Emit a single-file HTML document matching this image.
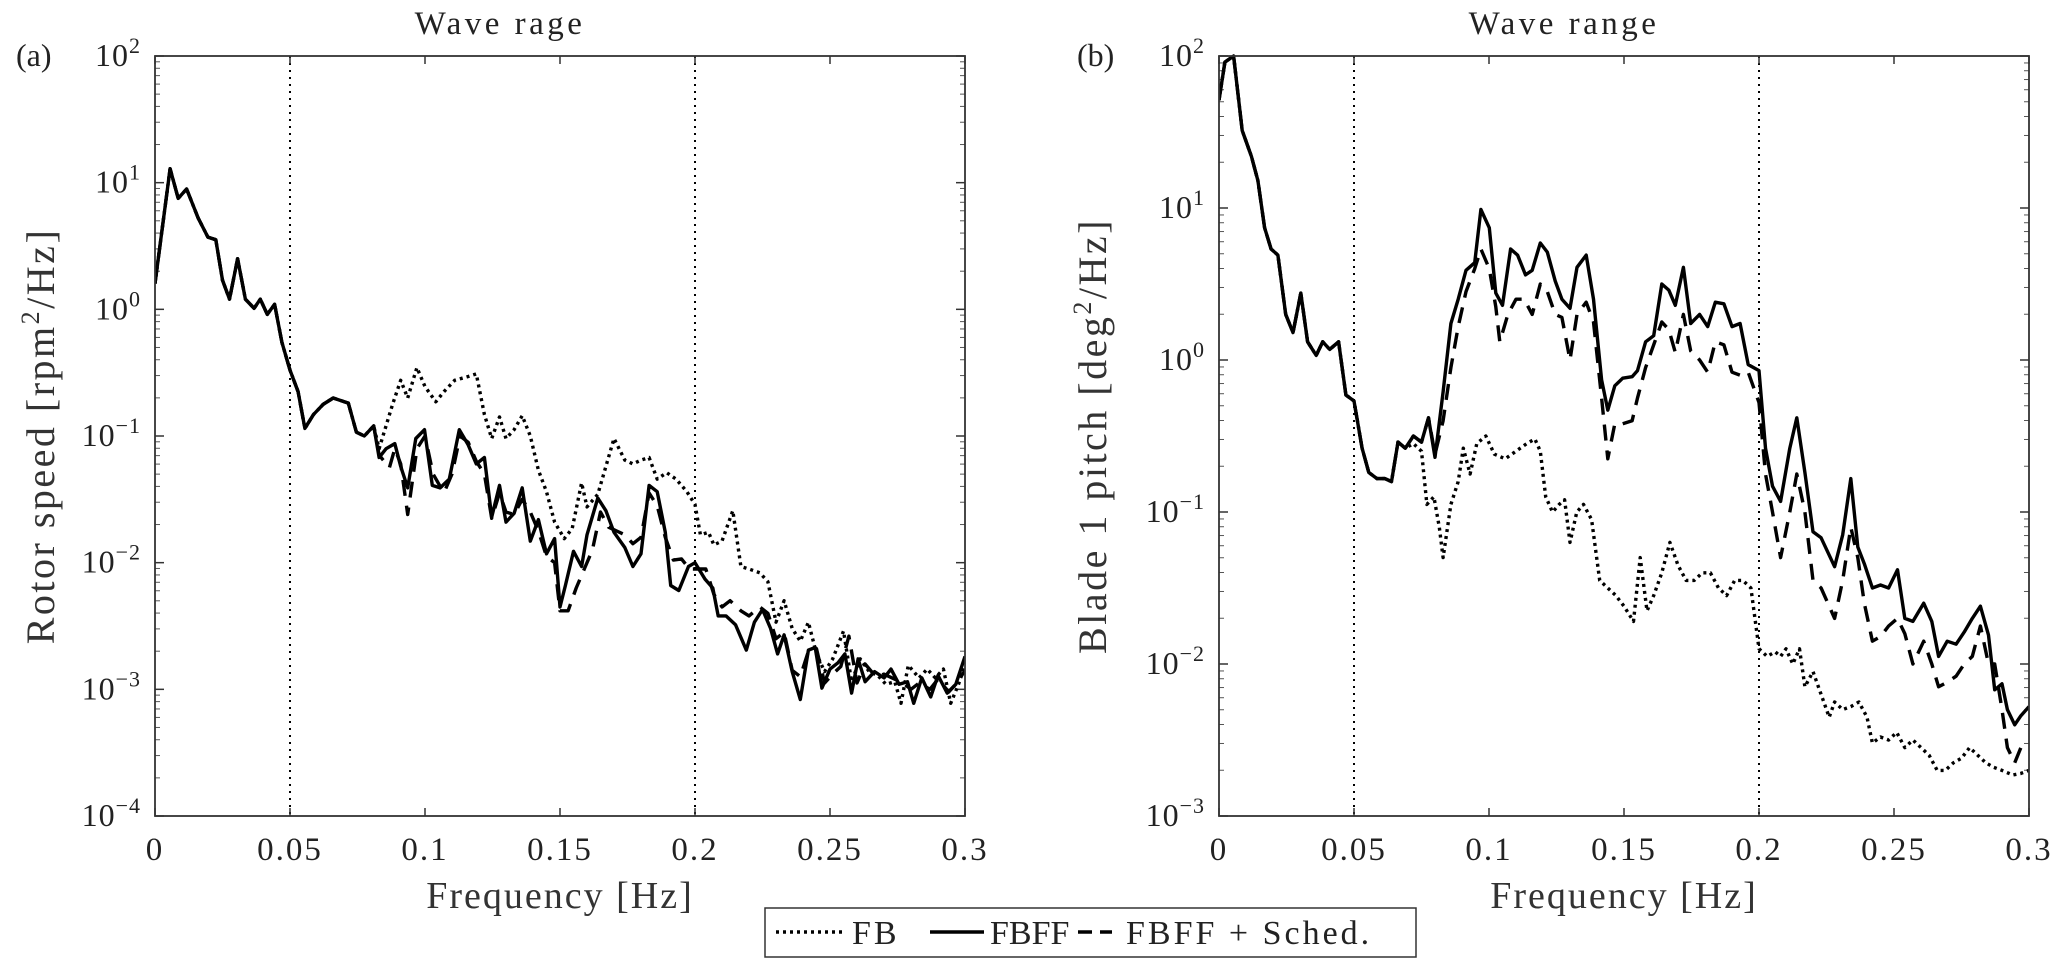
<!DOCTYPE html>
<html><head><meta charset="utf-8"><style>
html,body{margin:0;padding:0;background:#fff;}
svg{display:block;font-family:"Liberation Serif",serif;}
</style></head><body>
<svg id="fig" width="2067" height="976" viewBox="0 0 2067 976" xmlns="http://www.w3.org/2000/svg"></svg>
<script>
// ---------- Panel (a) data: rotor speed PSD, log10 values ----------
const aFreqFBFF = [0,0.0056,0.0086,0.0117,0.016,0.0196,0.0225,0.025,0.0276,0.0306,0.0335,0.0367,0.039,0.0416,0.0443,0.047,0.05,0.053,0.0555,0.0587,0.0623,0.066,0.0716,0.0746,0.0775,0.081,0.083,0.0856,0.0888,0.091,0.0936,0.0966,0.0998,0.1027,0.1056,0.109,0.1127,0.116,0.119,0.122,0.1247,0.1276,0.13,0.133,0.136,0.139,0.142,0.145,0.148,0.15,0.152,0.155,0.158,0.16,0.164,0.167,0.17,0.174,0.177,0.18,0.183,0.186,0.189,0.191,0.194,0.1976,0.2,0.2037,0.2066,0.2086,0.2115,0.215,0.219,0.222,0.225,0.228,0.2306,0.233,0.236,0.239,0.242,0.2445,0.247,0.25,0.253,0.2555,0.258,0.2604,0.263,0.2665,0.27,0.2726,0.2756,0.2787,0.281,0.284,0.2873,0.29,0.2934,0.2966,0.3];
const aLogFBFF = [0.204,1.11,0.876,0.95,0.72,0.57,0.55,0.23,0.08,0.40,0.08,0.008,0.08,-0.04,0.04,-0.26,-0.48,-0.65,-0.94,-0.83,-0.75,-0.70,-0.74,-0.97,-1.0,-0.92,-1.17,-1.10,-1.06,-1.24,-1.41,-1.02,-0.95,-1.39,-1.41,-1.34,-0.95,-1.07,-1.22,-1.17,-1.64,-1.39,-1.68,-1.61,-1.41,-1.83,-1.66,-1.93,-1.81,-2.35,-2.18,-1.91,-2.03,-1.78,-1.49,-1.59,-1.76,-1.88,-2.03,-1.93,-1.39,-1.44,-1.76,-2.18,-2.22,-2.03,-2.00,-2.13,-2.20,-2.42,-2.42,-2.49,-2.69,-2.47,-2.37,-2.52,-2.72,-2.57,-2.86,-3.08,-2.69,-2.67,-2.99,-2.84,-2.79,-2.72,-3.03,-2.76,-2.94,-2.86,-2.91,-2.84,-2.96,-2.94,-3.11,-2.91,-3.06,-2.89,-3.03,-2.96,-2.74];
const aFreqFB = [0.083,0.088,0.091,0.0936,0.097,0.1,0.104,0.107,0.111,0.116,0.119,0.122,0.1247,0.1276,0.13,0.133,0.136,0.139,0.142,0.145,0.148,0.1516,0.1545,0.158,0.16,0.164,0.167,0.17,0.174,0.177,0.18,0.183,0.186,0.1895,0.193,0.197,0.2,0.202,0.205,0.207,0.21,0.214,0.217,0.22,0.224,0.227,0.23,0.233,0.236,0.239,0.242,0.245,0.248,0.251,0.255,0.258,0.2612,0.2645,0.2677,0.2707,0.274,0.2763,0.279,0.283,0.286,0.289,0.292,0.2947,0.2976,0.3];
const aLogFB = [-1.10,-0.75,-0.56,-0.70,-0.46,-0.61,-0.73,-0.65,-0.56,-0.53,-0.51,-0.83,-1.02,-0.85,-1.02,-0.95,-0.84,-1.0,-1.27,-1.44,-1.68,-1.81,-1.73,-1.37,-1.56,-1.46,-1.24,-1.02,-1.19,-1.22,-1.19,-1.17,-1.34,-1.29,-1.34,-1.44,-1.54,-1.78,-1.76,-1.86,-1.83,-1.59,-2.03,-2.05,-2.08,-2.15,-2.47,-2.30,-2.52,-2.62,-2.47,-2.72,-2.86,-2.76,-2.54,-2.94,-2.76,-2.86,-2.89,-2.96,-2.94,-3.11,-2.81,-2.91,-2.84,-2.91,-2.84,-3.11,-2.96,-2.81];
const aFreqSched = [0.083,0.0868,0.0888,0.091,0.0936,0.097,0.1,0.103,0.107,0.11,0.113,0.116,0.119,0.122,0.1247,0.1276,0.13,0.133,0.136,0.139,0.142,0.145,0.148,0.15,0.153,0.156,0.159,0.162,0.165,0.168,0.171,0.174,0.177,0.18,0.183,0.186,0.189,0.192,0.195,0.198,0.201,0.204,0.207,0.21,0.213,0.217,0.22,0.224,0.227,0.23,0.233,0.236,0.239,0.242,0.245,0.248,0.251,0.254,0.257,0.26,0.263,0.267,0.27,0.274,0.277,0.28,0.283,0.287,0.29,0.294,0.297,0.3];
const aLogSched = [-1.15,-1.25,-1.10,-1.22,-1.62,-1.10,-1.00,-1.30,-1.45,-1.30,-1.00,-1.05,-1.20,-1.30,-1.65,-1.45,-1.60,-1.62,-1.50,-1.60,-1.75,-1.95,-2.0,-2.38,-2.38,-2.2,-2.05,-1.9,-1.60,-1.72,-1.75,-1.78,-1.85,-1.80,-1.45,-1.55,-1.80,-1.98,-1.97,-2.05,-2.05,-2.05,-2.25,-2.35,-2.30,-2.38,-2.42,-2.35,-2.40,-2.60,-2.55,-2.85,-2.90,-2.70,-2.68,-2.95,-2.88,-2.82,-2.58,-2.95,-2.80,-2.90,-2.88,-2.92,-2.95,-3.0,-2.95,-3.0,-2.92,-3.02,-2.95,-2.85];

// ---------- Panel (b) data: blade pitch PSD, log10 values ----------
const bFreqFBFF = [0,0.0022,0.0054,0.0086,0.012,0.0144,0.0169,0.0193,0.0218,0.0247,0.0274,0.0303,0.0328,0.036,0.0384,0.041,0.0443,0.047,0.05,0.053,0.0555,0.0585,0.0614,0.0639,0.0663,0.069,0.072,0.075,0.0776,0.08,0.083,0.0859,0.0886,0.0915,0.0947,0.097,0.1001,0.1025,0.105,0.108,0.1106,0.1135,0.116,0.119,0.1216,0.1245,0.127,0.13,0.1326,0.136,0.1387,0.1417,0.144,0.1466,0.1495,0.153,0.155,0.158,0.161,0.164,0.1666,0.169,0.172,0.1747,0.178,0.181,0.1838,0.187,0.19,0.193,0.196,0.2,0.2024,0.205,0.208,0.2114,0.214,0.217,0.22,0.223,0.228,0.231,0.234,0.2366,0.239,0.242,0.245,0.248,0.2513,0.254,0.257,0.261,0.264,0.2665,0.2697,0.273,0.276,0.279,0.282,0.285,0.2873,0.29,0.292,0.2947,0.297,0.3];
const bLogFBFF = [1.71,1.96,2.0,1.51,1.34,1.18,0.87,0.73,0.69,0.30,0.18,0.44,0.12,0.03,0.12,0.07,0.12,-0.23,-0.27,-0.58,-0.74,-0.78,-0.78,-0.80,-0.54,-0.58,-0.50,-0.54,-0.38,-0.64,-0.21,0.24,0.40,0.59,0.64,0.99,0.87,0.44,0.36,0.73,0.69,0.56,0.59,0.77,0.71,0.52,0.40,0.34,0.61,0.69,0.40,-0.13,-0.33,-0.17,-0.12,-0.11,-0.07,0.12,0.16,0.50,0.46,0.36,0.61,0.24,0.30,0.22,0.38,0.37,0.22,0.24,-0.03,-0.07,-0.58,-0.83,-0.93,-0.58,-0.38,-0.74,-1.13,-1.17,-1.36,-1.15,-0.78,-1.23,-1.34,-1.50,-1.48,-1.50,-1.38,-1.70,-1.72,-1.60,-1.72,-1.95,-1.85,-1.87,-1.79,-1.70,-1.62,-1.81,-2.17,-2.13,-2.30,-2.40,-2.34,-2.28];
const bFreqSched = [0.08,0.083,0.0859,0.0886,0.0915,0.0947,0.097,0.1001,0.1025,0.104,0.107,0.11,0.113,0.116,0.119,0.1216,0.1245,0.127,0.13,0.1326,0.136,0.1387,0.1417,0.144,0.1466,0.1495,0.153,0.155,0.158,0.161,0.164,0.1666,0.169,0.172,0.1747,0.178,0.181,0.1838,0.187,0.19,0.193,0.196,0.2,0.2024,0.205,0.208,0.2114,0.214,0.217,0.22,0.223,0.228,0.231,0.234,0.2366,0.239,0.242,0.245,0.248,0.2513,0.254,0.257,0.261,0.264,0.2665,0.2697,0.273,0.276,0.279,0.282,0.285,0.2873,0.29,0.292,0.2947,0.297,0.3];
const bLogSched = [-0.62,-0.40,-0.05,0.22,0.45,0.60,0.73,0.60,0.35,0.12,0.30,0.40,0.40,0.30,0.50,0.45,0.30,0.28,0.0,0.30,0.38,0.25,-0.25,-0.65,-0.42,-0.42,-0.40,-0.25,-0.05,0.10,0.25,0.20,0.05,0.30,0.06,0.0,-0.08,0.12,0.10,-0.08,-0.10,-0.08,-0.28,-0.75,-1.0,-1.30,-1.0,-0.75,-1.0,-1.45,-1.50,-1.70,-1.45,-1.10,-1.30,-1.60,-1.85,-1.82,-1.75,-1.70,-1.80,-2.0,-1.85,-2.0,-2.15,-2.12,-2.08,-2.0,-1.95,-1.75,-2.0,-2.0,-2.30,-2.55,-2.65,-2.55,-2.52];
const bFreqFB = [0.072,0.075,0.077,0.0796,0.0816,0.083,0.0859,0.0886,0.0905,0.093,0.0955,0.0988,0.102,0.106,0.11,0.114,0.117,0.119,0.121,0.1235,0.126,0.128,0.13,0.1325,0.135,0.138,0.141,0.144,0.147,0.15,0.1535,0.156,0.1585,0.161,0.164,0.167,0.17,0.173,0.176,0.179,0.182,0.185,0.188,0.191,0.194,0.197,0.2,0.203,0.206,0.208,0.21,0.2125,0.215,0.217,0.22,0.223,0.226,0.228,0.231,0.234,0.237,0.24,0.242,0.245,0.248,0.251,0.254,0.257,0.26,0.263,0.266,0.269,0.272,0.275,0.278,0.281,0.284,0.287,0.29,0.294,0.297,0.3];
const bLogFB = [-0.55,-0.60,-0.95,-0.90,-1.10,-1.30,-0.95,-0.80,-0.58,-0.75,-0.55,-0.50,-0.62,-0.65,-0.60,-0.55,-0.52,-0.60,-0.90,-1.00,-0.95,-0.92,-1.20,-1.0,-0.95,-1.05,-1.45,-1.50,-1.55,-1.62,-1.72,-1.30,-1.65,-1.55,-1.40,-1.20,-1.35,-1.45,-1.45,-1.40,-1.40,-1.50,-1.55,-1.45,-1.45,-1.50,-1.90,-1.95,-1.92,-1.95,-1.90,-2.0,-1.90,-2.15,-2.05,-2.20,-2.35,-2.25,-2.30,-2.28,-2.25,-2.35,-2.52,-2.48,-2.50,-2.45,-2.55,-2.50,-2.55,-2.60,-2.70,-2.70,-2.65,-2.62,-2.55,-2.60,-2.65,-2.68,-2.70,-2.73,-2.72,-2.70];

const xTicks = [0,0.05,0.1,0.15,0.2,0.25,0.3];
const xTickLabels = ["0","0.05","0.1","0.15","0.2","0.25","0.3"];
const waveBounds = [0.05,0.2];

const NS = "http://www.w3.org/2000/svg";
const svg = document.getElementById('fig');
function mk(tag, attrs, parent){
  const e = document.createElementNS(NS, tag);
  for (const k in attrs) e.setAttribute(k, attrs[k]);
  (parent||svg).appendChild(e);
  return e;
}

function prefixed(fA, lA, fB, lB){
  const f = [], l = [];
  for (let i=0;i<fA.length;i++){ if (fA[i] < fB[0]) { f.push(fA[i]); l.push(lA[i]); } }
  return [f.concat(fB), l.concat(lB)];
}

function panel(opt){
  const g = mk('g', {});
  
  
  const X0=opt.x0, X1=opt.x0+810, Y0=56, Y1=816;
  const xs = f => X0 + (f/0.3)*(X1-X0);
  const ys = lg => Y0 + (opt.maxExp - lg)/(opt.maxExp-opt.minExp)*(Y1-Y0);
  waveBounds.forEach(b=>{
    const l = mk('line',{x1:xs(b),x2:xs(b),y1:Y0,y2:Y1,stroke:'#000','stroke-width':2,'stroke-dasharray':'2 5'},g);
    
    
  });
  xTicks.forEach((t,i)=>{
    mk('line',{x1:xs(t),x2:xs(t),y1:Y1,y2:Y1-8,stroke:'#333','stroke-width':1.5},g);
    mk('line',{x1:xs(t),x2:xs(t),y1:Y0,y2:Y0+8,stroke:'#333','stroke-width':1.5},g);
    const tx = mk('text',{x:xs(t),y:860,'font-size':33,'letter-spacing':2,'text-anchor':'middle',fill:'#222'},g);
    tx.textContent = xTickLabels[i];
    
    
  });
  for (let e=opt.minExp;e<=opt.maxExp;e++){
    const y = ys(e);
    mk('line',{x1:X0,x2:X0+9,y1:y,y2:y,stroke:'#333','stroke-width':1.5},g);
    mk('line',{x1:X1,x2:X1-9,y1:y,y2:y,stroke:'#333','stroke-width':1.5},g);
    if (e<opt.maxExp){
      for (let m=2;m<10;m++){
        const ym = ys(e+Math.log10(m));
        mk('line',{x1:X0,x2:X0+5,y1:ym,y2:ym,stroke:'#555','stroke-width':1},g);
        mk('line',{x1:X1,x2:X1-5,y1:ym,y2:ym,stroke:'#555','stroke-width':1},g);
      }
    }
    const tx = mk('text',{x:X0-14,y:y+10,'font-size':32,'letter-spacing':1,'text-anchor':'end',fill:'#222'},g);
    
    
    tx.textContent = '10';
    const sp = mk('tspan',{dy:-13,'font-size':22},tx);
    sp.textContent = (e<0?'\u2212'+(-e):String(e));
  }
  const clip = mk('clipPath',{id:'clip'+opt.name},g);
  mk('rect',{x:X0,y:Y0-6,width:X1-X0,height:Y1-Y0+6},clip);
  opt.series.forEach(s=>{
    const d = s.f.map((f,i)=>(i?'L':'M')+xs(f).toFixed(1)+','+ys(s.l[i]).toFixed(1)).join(' ');
    const p = mk('path',{d:d,fill:'none',stroke:'#000','stroke-width':3.4,'stroke-linejoin':'round','clip-path':'url(#clip'+opt.name+')'},g);
    if (s.dash) p.setAttribute('stroke-dasharray', s.dash);
    
    
  });
  const box = mk('rect',{x:X0,y:Y0,width:X1-X0,height:Y1-Y0,fill:'none',stroke:'#333','stroke-width':1.8},g);
  
  
  const t = mk('text',{x:(X0+X1)/2 - 2*(X1-X0)/27,y:34,'font-size':33,'letter-spacing':3.5,'text-anchor':'middle',fill:'#222'},g);
  t.textContent = opt.title;
  
  
  const xl = mk('text',{x:(X0+X1)/2,y:908,'font-size':38,'letter-spacing':2,'text-anchor':'middle',fill:'#333'},g);
  xl.textContent = 'Frequency [Hz]';
  
  
  const yl = mk('text',{x:0,y:0,'font-size':40,'letter-spacing':2.5,'text-anchor':'middle',fill:'#333',transform:'translate('+opt.ylx+',436) rotate(-90)'},g);
  
  
  yl.textContent = opt.ylabel;
  const sup = mk('tspan',{dy:-15,'font-size':26},yl); sup.textContent='2';
  const rest = mk('tspan',{dy:15},yl); rest.textContent = '/Hz]';
  const pl = mk('text',{x:opt.labx,y:66,'font-size':32,fill:'#222'},g);
  pl.textContent = opt.panel;
  
  
}

const aFB = prefixed(aFreqFBFF,aLogFBFF,aFreqFB,aLogFB);
const aSc = prefixed(aFreqFBFF,aLogFBFF,aFreqSched,aLogSched);
const bFB = prefixed(bFreqFBFF,bLogFBFF,bFreqFB,bLogFB);
const bSc = prefixed(bFreqFBFF,bLogFBFF,bFreqSched,bLogSched);

panel({name:'rotor-speed-panel',x0:155,maxExp:2,minExp:-4,title:'Wave rage',ylabel:'Rotor speed [rpm',ylx:54,labx:16,panel:'(a)',
  series:[{name:'fb-line',f:aFB[0],l:aFB[1],dash:'3 4'},{name:'fbff-sched-line',f:aSc[0],l:aSc[1],dash:'16 10'},{name:'fbff-line',f:aFreqFBFF,l:aLogFBFF}]});
panel({name:'blade-pitch-panel',x0:1219,maxExp:2,minExp:-3,title:'Wave range',ylabel:'Blade 1 pitch [deg',ylx:1106,labx:1077,panel:'(b)',
  series:[{name:'fb-line',f:bFB[0],l:bFB[1],dash:'3 4'},{name:'fbff-sched-line',f:bSc[0],l:bSc[1],dash:'16 10'},{name:'fbff-line',f:bFreqFBFF,l:bLogFBFF}]});

const lg = mk('g',{});


mk('rect',{x:765,y:908,width:651,height:49,fill:'#fff',stroke:'#333','stroke-width':1.5},lg);
const entries = [
  {x1:776,x2:846,dash:'3 4',tx:852,ls:3,label:'FB',name:'legend-entry-fb'},
  {x1:930,x2:984,dash:null,tx:990,ls:0,label:'FBFF',name:'legend-entry-fbff'},
  {x1:1078,x2:1112,dash:'14 8',tx:1126,ls:3,label:'FBFF + Sched.',name:'legend-entry-fbff-sched'}
];
entries.forEach(e=>{
  const ln = mk('line',{x1:e.x1,x2:e.x2,y1:932,y2:932,stroke:'#000','stroke-width':3.4},lg);
  if (e.dash) ln.setAttribute('stroke-dasharray',e.dash);
  const t = mk('text',{x:e.tx,y:944,'font-size':34,'letter-spacing':e.ls,fill:'#222'},lg);
  t.textContent = e.label;
  
  
});
</script>
</body></html>
